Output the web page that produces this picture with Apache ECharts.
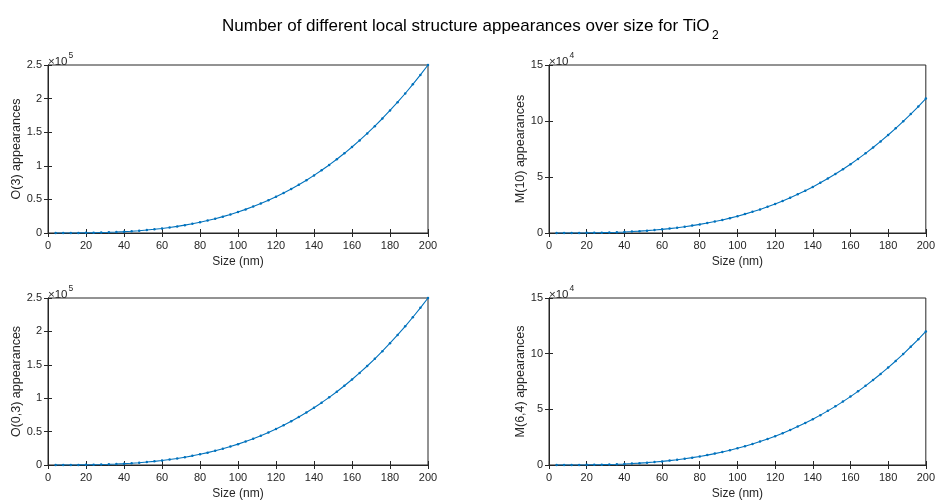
<!DOCTYPE html>
<html><head><meta charset="utf-8">
<script src="https://cdn.jsdelivr.net/npm/echarts@6/dist/echarts.min.js"></script>
<style>html,body{margin:0;padding:0;background:#fff}#c{width:938px;height:501px}</style>
</head><body><div id="c"></div>
<script>
// Size (nm)
const sizes = [4,8,12,16,20,24,28,32,36,40,44,48,52,56,60,64,68,72,76,80,84,88,92,96,100,104,108,112,116,120,124,128,132,136,140,144,148,152,156,160,164,168,172,176,180,184,188,192,196,200];
// O(3) appearances
const o3 = [2,16,54,128,250,432,690,1020,1460,2000,2660,3460,4390,5490,6750,8190,9830,11660,13720,16000,18520,21300,24330,27650,31250,35150,39370,43900,48780,54000,59580,65540,71870,78610,85750,93310,101300,109700,118600,128000,137800,148200,159000,170400,182300,194700,207600,221200,235300,250000];
// M(10) appearances
const m10 = [1,8,26,61,120,207,329,492,700,960,1280,1660,2110,2630,3240,3930,4720,5600,6590,7680,8890,10220,11680,13270,15000,16870,18900,21070,23410,25920,28600,31460,34500,37730,41160,44790,48630,52680,56950,61440,66160,71120,76330,81780,87480,93440,99670,106200,112900,120000];
// O(0,3) appearances
const o03 = [2,16,54,128,250,432,690,1020,1460,2000,2660,3460,4390,5490,6750,8190,9830,11660,13720,16000,18520,21300,24330,27650,31250,35150,39370,43900,48780,54000,59580,65540,71870,78610,85750,93310,101300,109700,118600,128000,137800,148200,159000,170400,182300,194700,207600,221200,235300,250000];
// M(6,4) appearances
const m64 = [1,8,26,61,120,207,329,492,700,960,1280,1660,2110,2630,3240,3930,4720,5600,6590,7680,8890,10220,11680,13270,15000,16870,18900,21070,23410,25920,28600,31460,34500,37730,41160,44790,48630,52680,56950,61440,66160,71120,76330,81780,87480,93440,99670,106200,112900,120000];

const panels = [
  {name:'O(3) appearances', data:o3, max:250000, interval:50000, scale:1e5, exp:'5', left:48, top:65, gap:25},
  {name:'M(10) appearances', data:m10, max:150000, interval:50000, scale:1e4, exp:'4', left:549, top:65, gap:22},
  {name:'O(0,3) appearances', data:o03, max:250000, interval:50000, scale:1e5, exp:'5', left:48, top:298, gap:25},
  {name:'M(6,4) appearances', data:m64, max:150000, interval:50000, scale:1e4, exp:'4', left:549, top:298, gap:22}
];
const W = 380, H = 168;
const axisCol = '#262626';
const font = 'Liberation Sans, Arial, Helvetica, sans-serif';
const grid=[], xAxis=[], yAxis=[], series=[], titles=[];
titles.push({text:'Number of different local structure appearances over size for TiO', left:217, top:13,
  textStyle:{fontFamily:font, fontSize:17, fontWeight:'normal', color:'#000'}});
titles.push({text:'2', left:707, top:25, textStyle:{fontFamily:font, fontSize:12, fontWeight:'normal', color:'#000'}});
panels.forEach((p,i)=>{
  grid.push({left:p.left, top:p.top, width:W, height:H, show:true, borderColor:axisCol, borderWidth:1, backgroundColor:'transparent'});
  const common = {min:0, max:200, interval:20, gridIndex:i};
  xAxis.push(Object.assign({type:'value', position:'bottom', name:'Size (nm)', nameLocation:'middle', nameGap:23,
    nameTextStyle:{fontFamily:font, fontSize:12, color:axisCol},
    axisLine:{show:true, lineStyle:{color:axisCol}}, axisTick:{inside:true, length:4, lineStyle:{color:axisCol}},
    axisLabel:{fontFamily:font, fontSize:11, color:axisCol, margin:7}, splitLine:{show:false}}, common));
  xAxis.push(Object.assign({type:'value', position:'top', axisLine:{show:true, lineStyle:{color:axisCol}},
    axisTick:{inside:true, length:4, lineStyle:{color:axisCol}}, axisLabel:{show:false}, splitLine:{show:false}}, common));
  const yc = {min:0, max:p.max, interval:p.interval, gridIndex:i};
  yAxis.push(Object.assign({type:'value', position:'left', name:p.name, nameLocation:'middle', nameGap:p.gap,
    nameTextStyle:{fontFamily:font, fontSize:12.5, color:axisCol},
    axisLine:{show:true, lineStyle:{color:axisCol}}, axisTick:{inside:true, length:4, lineStyle:{color:axisCol}},
    axisLabel:{fontFamily:font, fontSize:11, color:axisCol, margin:6, formatter:v=>String(+(v/p.scale).toFixed(2))},
    splitLine:{show:false}}, yc));
  yAxis.push(Object.assign({type:'value', position:'right', axisLine:{show:true, lineStyle:{color:axisCol}},
    axisTick:{inside:true, length:4, lineStyle:{color:axisCol}}, axisLabel:{show:false}, splitLine:{show:false}}, yc));
  series.push({type:'line', xAxisIndex:2*i, yAxisIndex:2*i, data:sizes.map((s,k)=>[s,p.data[k]]),
    lineStyle:{color:'#0072BD', width:1.1}, itemStyle:{color:'#0072BD'}, symbol:'circle', symbolSize:2.5,
    showSymbol:true, animation:false, silent:true});
  titles.push({text:'{a|×10}{b|'+p.exp+'}', left:p.left-5, top:p.top-19,
    textStyle:{fontWeight:'normal', rich:{a:{fontFamily:font, fontSize:11.5, fontWeight:'normal', color:axisCol, padding:[5,0,0,0]}, b:{fontFamily:font, fontSize:8.5, fontWeight:'normal', color:axisCol, verticalAlign:'top', padding:[0,0,7,1]}}}});
});
const chart = echarts.init(document.getElementById('c'), null, {renderer:'canvas'});
chart.setOption({animation:false, backgroundColor:'#fff', title:titles, grid, xAxis, yAxis, series});
</script></body></html>
